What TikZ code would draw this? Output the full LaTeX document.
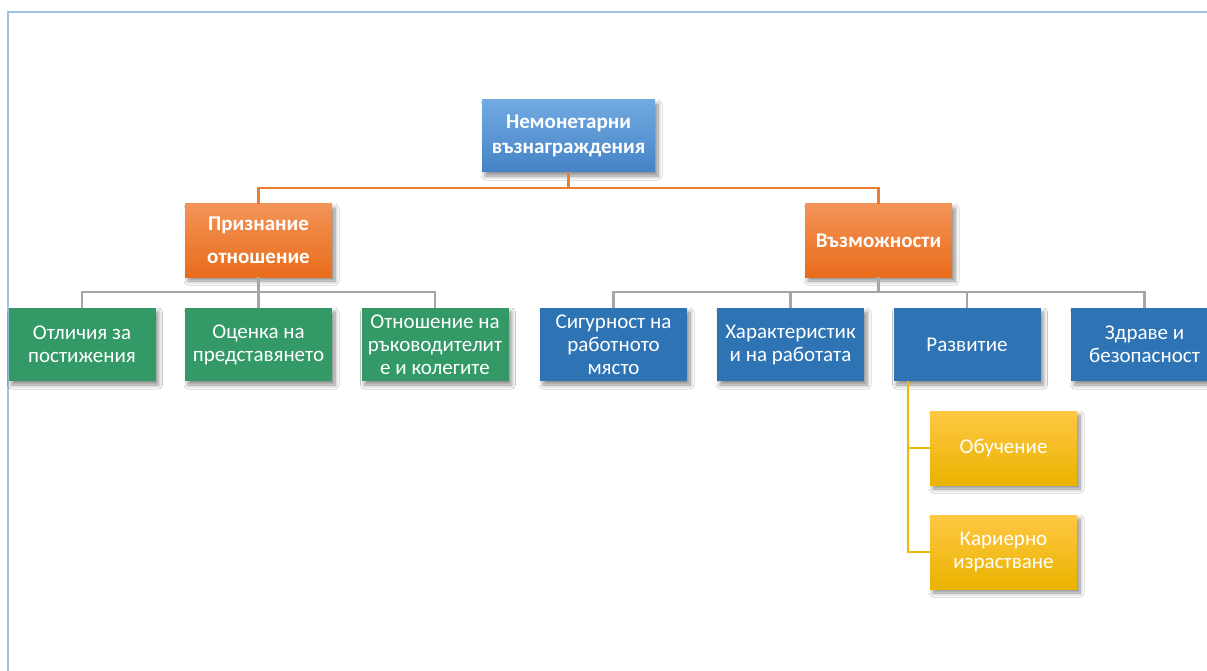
\documentclass[tikz,border=0pt]{standalone}
\usepackage{fontspec}
\setmainfont{Carlito}
\usetikzlibrary{shadows.blur}

\definecolor{frameblue}{HTML}{9DC3E6}
\definecolor{rootTop}{HTML}{72AAE1}
\definecolor{rootBot}{HTML}{4483C6}
\definecolor{orTop}{HTML}{F39457}
\definecolor{orBot}{HTML}{E86C1B}
\definecolor{leafgreen}{HTML}{339966}
\definecolor{leafblue}{HTML}{2E74B5}
\definecolor{yelTop}{HTML}{FFC844}
\definecolor{yelBot}{HTML}{EAB300}
\definecolor{lineorange}{HTML}{ED7D31}
\definecolor{linegray}{HTML}{A6A6A6}
\definecolor{lineyellow}{HTML}{F2B705}

\tikzset{
  box/.style={rectangle, minimum width=147pt, minimum height=73pt, inner sep=0pt,
    align=center, text=white, font=\fontsize{21}{23}\selectfont,
    blur shadow={shadow xshift=3pt, shadow yshift=-4pt, shadow blur steps=8, shadow blur radius=4pt, shadow opacity=45}},
  rootbox/.style={box, minimum width=173pt, minimum height=72pt,
    top color=rootTop, bottom color=rootBot, font=\bfseries\fontsize{21}{25}\selectfont},
  orangebox/.style={box, top color=orTop, bottom color=orBot,
    font=\bfseries\fontsize{21}{33}\selectfont},
  greenbox/.style={box, fill=leafgreen},
  bluebox/.style={box, fill=leafblue},
  yellowbox/.style={box, minimum height=74pt, top color=yelTop, bottom color=yelBot},
  link/.style={line width=2.4pt},
  framestroke/.style={draw=frameblue, line width=2pt}
}

\begin{document}
\begin{tikzpicture}[x=1pt, y=-1pt]
  \useasboundingbox (0,0) rectangle (1207,671);
  \fill[white] (0,0) rectangle (1207,671);

  % page frame
  \draw[framestroke] (8,671) -- (8,12) -- (1207,12);

  % connector buses
  \coordinate (busTop) at (568.5,188);
  \coordinate (busLeft) at (258.5,292);
  \coordinate (busRight) at (878.5,292);
  \coordinate (devLine) at (908,381);

  % top level
  \node[rootbox] (root) at (568.5,136) {Немонетарни\\възнаграждения};

  % second level
  \node[orangebox] (rec) at (258.5,240.5) {Признание\\отношение};
  \node[orangebox] (opp) at (878.5,240.5) {Възможности};

  % recognition branch
  \node[greenbox] (g1) at (82,344.5) {Отличия за\\постижения};
  \node[greenbox] (g2) at (258.5,344.5) {Оценка на\\представянето};
  \node[greenbox] (g3) at (435,344.5) {Отношение на\\ръководителит\\е и колегите};

  % opportunities branch
  \node[bluebox] (b1) at (613.5,344.5) {Сигурност на\\работното\\място};
  \node[bluebox] (b2) at (790.5,344.5) {Характеристик\\и на работата};
  \node[bluebox] (b3) at (967,344.5) {Развитие};
  \node[bluebox] (b4) at (1144.5,344.5) {Здраве и\\безопасност};

  % development sub-items
  \node[yellowbox] (y1) at (1003.5,448) {Обучение};
  \node[yellowbox] (y2) at (1003.5,552) {Кариерно\\израстване};

  % connectors
  \draw[link, lineorange] (root.south) -- (busTop);
  \draw[link, lineorange] (busTop) -| (rec.north);
  \draw[link, lineorange] (busTop) -| (opp.north);

  \draw[link, linegray] (rec.south) -- (busLeft);
  \draw[link, linegray] (busLeft) -| (g1.north);
  \draw[link, linegray] (busLeft) -| (g2.north);
  \draw[link, linegray] (busLeft) -| (g3.north);

  \draw[link, linegray] (opp.south) -- (busRight);
  \draw[link, linegray] (busRight) -| (b1.north);
  \draw[link, linegray] (busRight) -| (b2.north);
  \draw[link, linegray] (busRight) -| (b3.north);
  \draw[link, linegray] (busRight) -| (b4.north);

  \draw[link, lineyellow] (devLine) |- (y1.west);
  \draw[link, lineyellow] (devLine) |- (y2.west);
\end{tikzpicture}
\end{document}
